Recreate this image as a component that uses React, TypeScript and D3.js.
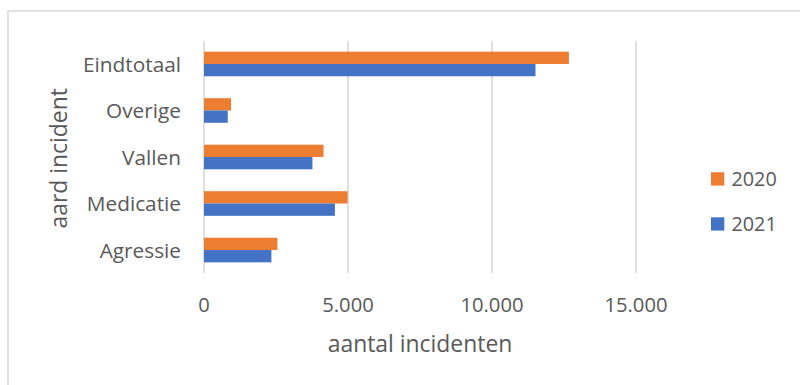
import React from "react";
import * as d3 from "d3";

// Incident categories (top to bottom) and counts per year
const categories = ["Eindtotaal", "Overige", "Vallen", "Medicatie", "Agressie"];
const values2020 = [12670, 940, 4150, 4985, 2550];
const values2021 = [11510, 825, 3765, 4545, 2340];
const series = ["2020", "2021"];
const seriesColors = ["#ED7D31", "#4472C4"];
const xTicks = [0, 5000, 10000, 15000];

const W = 800;
const H = 385;
const FONT = "'Open Sans', 'Noto Sans', sans-serif";
const TEXT = "#595959";
const GRID = "#d9d9d9";

const fmt = (v: number) => d3.format(",")(v).replace(/,/g, ".");

export default function App() {
  const x = d3.scaleLinear().domain([0, 15000]).range([204, 636]);
  const y = d3
    .scaleBand<string>()
    .domain(categories)
    .range([40.7, 273.3])
    .paddingInner(0.471)
    .paddingOuter(0.2355);
  const ySub = d3.scaleBand<string>().domain(series).range([0, y.bandwidth()]);
  const valuesBySeries = [values2020, values2021];

  return (
    <svg
      width={W}
      height={H}
      style={{ position: "absolute", left: 0, top: 0, background: "#fff" }}
      fontFamily={FONT}
    >
      {/* chart frame */}
      <rect x={8} y={11} width={W} height={H} fill="#fff" stroke={GRID} strokeWidth={1.5} />

      {/* vertical gridlines */}
      {xTicks.map((t) => (
        <line
          key={`g${t}`}
          x1={x(t)}
          x2={x(t)}
          y1={40.7}
          y2={273.3}
          stroke={GRID}
          strokeWidth={1.6}
        />
      ))}

      {/* bars */}
      {categories.map((c, i) => (
        <g key={c} transform={`translate(0,${y(c)})`}>
          {series.map((s, k) => (
            <rect
              key={s}
              x={x(0)}
              y={ySub(s)}
              width={x(valuesBySeries[k][i]) - x(0)}
              height={ySub.bandwidth()}
              fill={seriesColors[k]}
            />
          ))}
        </g>
      ))}

      {/* category labels */}
      {categories.map((c) => (
        <text
          key={`l${c}`}
          x={181}
          y={(y(c) as number) + y.bandwidth() / 2 + 7.6}
          textAnchor="end"
          fontSize={20.8}
          fill={TEXT}
        >
          {c}
        </text>
      ))}

      {/* x tick labels */}
      {xTicks.map((t) => (
        <text key={`t${t}`} x={x(t)} y={311.7} textAnchor="middle" fontSize={20.2} fill={TEXT}>
          {fmt(t)}
        </text>
      ))}

      {/* axis titles */}
      <text x={(x(0) + x(15000)) / 2} y={351.7} textAnchor="middle" fontSize={22.9} fill={TEXT}>
        aantal incidenten
      </text>
      <text
        transform={`translate(66.7,158.3) rotate(-90)`}
        textAnchor="middle"
        fontSize={22.9}
        fill={TEXT}
      >
        aard incident
      </text>

      {/* legend */}
      {series.map((s, k) => (
        <g key={`lg${s}`} transform={`translate(711,${172.3 + k * 45})`}>
          <rect x={0} y={0} width={13.3} height={13.3} fill={seriesColors[k]} />
          <text x={20.5} y={13.6} fontSize={19.8} fill={TEXT}>
            {s}
          </text>
        </g>
      ))}
    </svg>
  );
}
